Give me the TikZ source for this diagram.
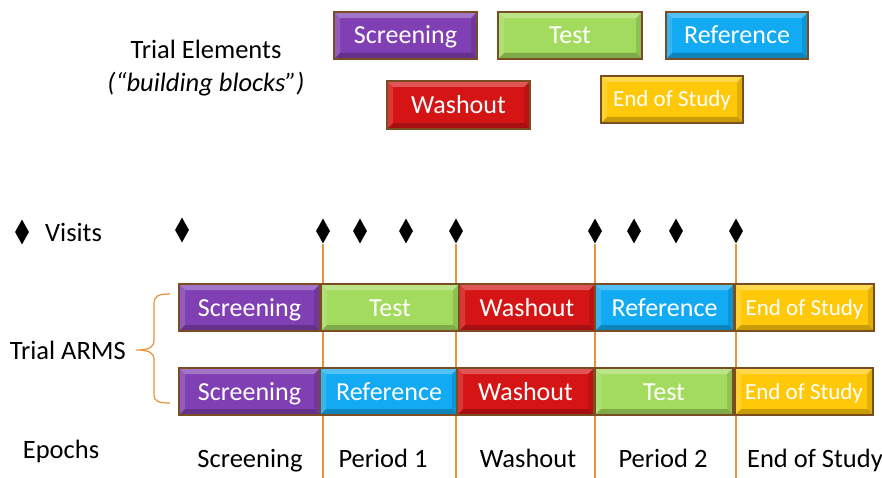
\documentclass[tikz,border=0pt]{standalone}
\usepackage{fontspec}
\setmainfont{Carlito}
\usetikzlibrary{shapes.geometric}
\definecolor{cPur}{HTML}{8040B4}
\definecolor{cGrn}{HTML}{A3DB5E}
\definecolor{cBlu}{HTML}{12AAF2}
\definecolor{cRed}{HTML}{D51515}
\definecolor{cYel}{HTML}{FFC90A}
\definecolor{cBrn}{HTML}{7A4E22}
\definecolor{cOra}{HTML}{E8923A}
\newcommand\bigfs{\fontsize{26.5}{31}\selectfont}
\newcommand\boxfs{\fontsize{26}{31}\selectfont}
\newcommand\smfs{\fontsize{23}{27}\selectfont}
\tikzset{
  blk/.style={draw=cBrn, line width=1.8pt, fill=#1, text=white, minimum height=47pt,
    inner sep=0pt, font=\boxfs, text height=17pt, text depth=0pt,
    path picture={
      \fill[white,opacity=.28] (path picture bounding box.north west) -- (path picture bounding box.north east)
        -- ([xshift=-6pt,yshift=-6pt]path picture bounding box.north east) -- ([xshift=6pt,yshift=-6pt]path picture bounding box.north west) -- cycle;
      \fill[white,opacity=.15] (path picture bounding box.north west) -- (path picture bounding box.south west)
        -- ([xshift=6pt,yshift=6pt]path picture bounding box.south west) -- ([xshift=6pt,yshift=-6pt]path picture bounding box.north west) -- cycle;
      \fill[black,opacity=.22] (path picture bounding box.south west) -- (path picture bounding box.south east)
        -- ([xshift=-6pt,yshift=6pt]path picture bounding box.south east) -- ([xshift=6pt,yshift=6pt]path picture bounding box.south west) -- cycle;
      \fill[black,opacity=.12] (path picture bounding box.north east) -- (path picture bounding box.south east)
        -- ([xshift=-6pt,yshift=6pt]path picture bounding box.south east) -- ([xshift=-6pt,yshift=-6pt]path picture bounding box.north east) -- cycle;
    }},
  smb/.style={font=\smfs, text height=15pt},
  visit/.style={diamond, fill=black, minimum width=14pt, minimum height=25pt, inner sep=0pt},
  lbl/.style={font=\bigfs, text=black, inner sep=0pt, text height=17pt, text depth=0pt},
  vline/.style={draw=cOra, line width=1.2pt}
}
\begin{document}
\begin{tikzpicture}[x=1pt,y=-1pt]
\useasboundingbox[fill=white] (0,0) rectangle (882,478);

% Legend texts
\node[lbl] (te) at (206,50) {Trial Elements};
\node[lbl, font=\bigfs\itshape] (bb) at (206,83) {(“building blocks”)};

% Trial elements
\node[blk=cPur, minimum width=143pt] (e1) at (405.5,35.5) {Screening};
\node[blk=cGrn, minimum width=144pt] (e2) at (570,35.5) {Test};
\node[blk=cBlu, minimum width=142pt] (e3) at (737,35.5) {Reference};
\node[blk=cRed, minimum width=143pt, minimum height=48pt] (e4) at (458.5,105) {Washout};
\node[blk=cYel, minimum width=142pt, smb] (e5) at (672,99.5) {End of Study};

% Visits
\node[visit] (vl) at (22,232) {};
\node[lbl, anchor=west] (vt) at (45,233) {Visits};
\node[visit] (v1) at (182,230) {};
\node[visit] (v2) at (323,231) {};
\node[visit] (v3) at (360,231) {};
\node[visit] (v4) at (406,231) {};
\node[visit] (v5) at (456,231) {};
\node[visit] (v6) at (595,231) {};
\node[visit] (v7) at (634,231) {};
\node[visit] (v8) at (676,231) {};
\node[visit] (v9) at (736,231) {};

% vertical epoch lines
\coordinate (b2) at (323,478);
\coordinate (b5) at (456,478);
\coordinate (b6) at (595,478);
\coordinate (b9) at (736,478);
\draw[vline] (v2.south) -- (b2);
\draw[vline] (v5.south) -- (b5);
\draw[vline] (v6.south) -- (b6);
\draw[vline] (v9.south) -- (b9);

% Arm 1
\node[blk=cPur, minimum width=141pt] (a1) at (249.5,307.5) {Screening};
\node[blk=cGrn, minimum width=138pt] (a2) at (390,307.5) {Test};
\node[blk=cRed, minimum width=136pt] (a3) at (527,307.5) {Washout};
\node[blk=cBlu, minimum width=139pt] (a4) at (664.5,307.5) {Reference};
\node[blk=cYel, minimum width=139pt, smb] (a5) at (804.5,307.5) {End of Study};

% Arm 2
\node[blk=cPur, minimum width=141pt] (r1) at (249.5,391.5) {Screening};
\node[blk=cBlu, minimum width=138pt] (r2) at (389,391.5) {Reference};
\node[blk=cRed, minimum width=137pt] (r3) at (525.5,391.5) {Washout};
\node[blk=cGrn, minimum width=138pt] (r4) at (664,391.5) {Test};
\node[blk=cYel, minimum width=138pt, smb] (r5) at (804,391.5) {End of Study};

% Brace
\coordinate (bt) at (170,294);
\coordinate (bm) at (136,350);
\coordinate (bo) at (170,403);
\draw[cOra, line width=1.2pt] (bt) .. controls (158,294) and (154,296) .. (154,304) -- (154,340)
  .. controls (154,347) and (150,350) .. (bm)
  .. controls (150,350) and (154,353) .. (154,360) -- (154,395)
  .. controls (154,401) and (158,403) .. (bo);
\node[lbl, anchor=east] (arms) at (126,351) {Trial ARMS};

% Epochs
\node[lbl] (ep) at (61,450) {Epochs};
\node[lbl] (p0) at (250,459) {Screening};
\node[lbl] (p1) at (383,459) {Period 1};
\node[lbl] (p2) at (528,459) {Washout};
\node[lbl] (p3) at (663,459) {Period 2};
\node[lbl] (p4) at (815,459) {End of Study};
\end{tikzpicture}
\end{document}
